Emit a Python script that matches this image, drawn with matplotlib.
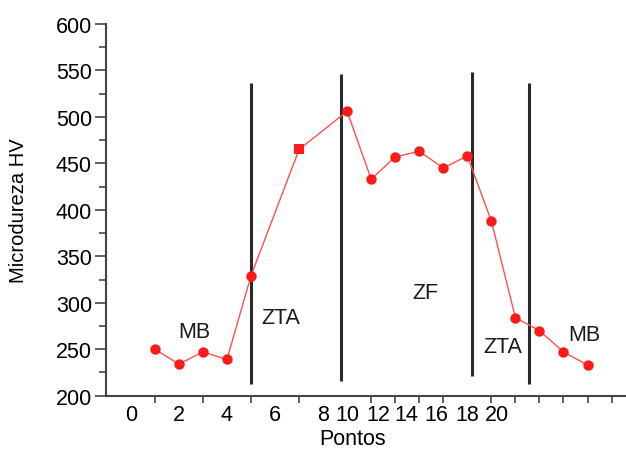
import numpy as np
import matplotlib
matplotlib.use('Agg')
import matplotlib.pyplot as plt

plt.rcParams['font.family'] = ['Liberation Sans', 'DejaVu Sans']

# medidas de microdureza
pontos = [1, 2, 3, 4, 5, 7, 9, 10, 11, 12, 13, 14, 15, 16, 17, 18, 19]
dureza = [250, 234, 247, 239, 329, 465, 506, 433, 457, 463, 445, 458, 388, 284, 270, 247, 233]

# limites das zonas (linhas verticais)
zona_x = [5.0, 8.76, 14.21, 16.55]
zona_ini = [212.6, 216.1, 221.5, 212.6]
zona_fim = [536.4, 546.1, 548.0, 536.4]

# nomes das zonas
zona_nomes = ['MB', 'ZTA', 'ZF', 'ZTA', 'MB']
zona_nome_x = [2.66, 6.22, 12.25, 15.47, 18.88]
zona_nome_y = [262.8, 277.9, 305.1, 247.4, 260.3]

# rotulos do eixo x (como no original, fora do lugar)
tick_pos = [0, 2, 4, 6, 8, 9, 10.28, 11.46, 12.7, 14.0, 15.25]
tick_lbl = ['0', '2', '4', '6', '8', '10', '12', '14', '16', '18', '20']

fig = plt.figure(figsize=(6.26, 4.52), dpi=100)
ax = fig.add_axes([0.169, 0.1224, 0.831, 0.8223])

ax.vlines(zona_x, zona_ini, zona_fim, colors='#2a2a2a', linewidth=2.2, zorder=2)

ax.plot(pontos, dureza, '-', color='#ff5050', linewidth=1.0, zorder=3)
mask = np.array(pontos) != 7
ax.plot(np.array(pontos)[mask], np.array(dureza)[mask], 'o', color='#ff1a1a',
        markersize=7.5, markeredgewidth=0, zorder=4)
ax.plot(np.array(pontos)[~mask], np.array(dureza)[~mask], 's', color='#ff1a1a',
        markersize=7, markeredgewidth=0, zorder=4)

for nome, tx, ty in zip(zona_nomes, zona_nome_x, zona_nome_y):
    ax.text(tx, ty, nome, ha='center', va='baseline', fontsize=15.5, color='#1a1a1a')

ax.set_xlim(-1.04, 20.6)
ax.set_ylim(200, 600)

ax.set_xticks(tick_pos)
ax.set_xticklabels(tick_lbl, fontsize=15.5)
ax.set_xticks(np.arange(0, 21), minor=True)
ax.tick_params(axis='x', which='major', length=0, pad=6)
ax.tick_params(axis='x', which='minor', length=5, width=1.2, color='#444444')

ax.set_yticks(np.arange(200, 601, 50))
ax.set_yticks(np.arange(200, 601, 25), minor=True)
ax.tick_params(axis='y', which='major', length=8, width=1.2, color='#444444', labelsize=15.5, pad=2)
ax.tick_params(axis='y', which='minor', length=5, width=1.2, color='#444444')

for s in ['top', 'right']:
    ax.spines[s].set_visible(False)
for s in ['left', 'bottom']:
    ax.spines[s].set_color('#444444')
    ax.spines[s].set_linewidth(1.5)

ax.set_xlabel('Pontos', fontsize=15.5)
ax.set_ylabel('Microdureza HV', fontsize=14.5)
ax.xaxis.set_label_coords(0.475, -0.088)
ax.yaxis.set_label_coords(-0.15, 0.50)

fig.savefig('out.png', dpi=100)
